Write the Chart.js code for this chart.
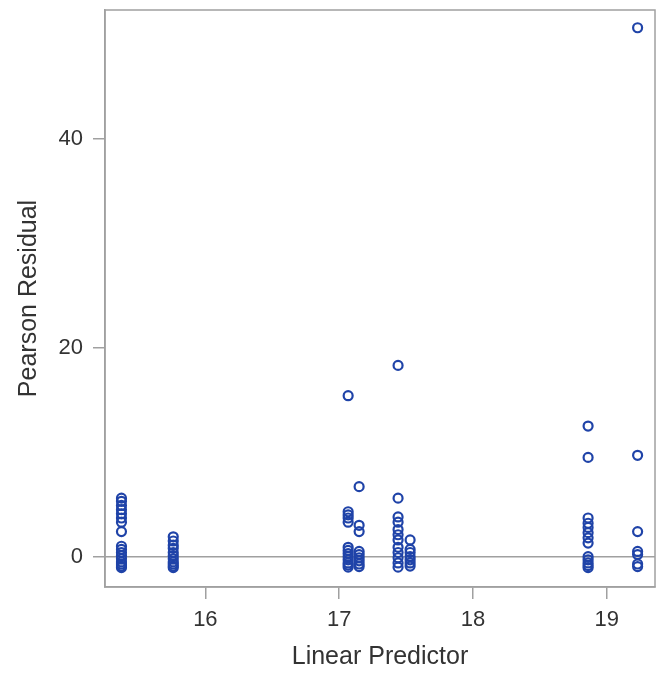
<!DOCTYPE html>
<html>
<head>
<meta charset="utf-8">
<script src="https://cdn.jsdelivr.net/npm/chart.js@4/dist/chart.umd.min.js"></script>
<style>
  html, body { margin: 0; padding: 0; background: #fff; }
  canvas { display: block; }
</style>
</head>
<body>
<canvas id="chart" width="662" height="683"></canvas>
<script>
// Linear predictor value of each vertical column of points
const groupX = [15.373, 15.76, 17.067, 17.149, 17.44, 17.53, 18.86, 19.23];

// Pearson residuals
const residualsA = [5.6, 5.3, 4.9, 4.5, 4.1, 3.7, 3.3, 2.4, 1.0, 0.7, 0.4, 0.1, -0.2, -0.5, -0.7, -0.9, -1.05];
const residualsB = [1.9, 1.5, 1.1, 0.8, 0.4, 0.1, -0.2, -0.5, -0.7, -0.9, -1.05];
const residualsC = [15.4, 4.3, 4.0, 3.7, 3.3, 0.9, 0.6, 0.3, 0.0, -0.3, -0.6, -0.8, -1.0];
const residualsD = [6.7, 3.0, 2.4, 0.5, 0.2, -0.1, -0.4, -0.7, -0.95];
const residualsE = [18.3, 5.6, 3.8, 3.3, 2.6, 2.1, 1.6, 0.9, 0.4, -0.1, -0.6, -1.0];
const residualsF = [1.6, 0.7, 0.4, 0.0, -0.3, -0.6, -0.9];
const residualsG = [12.5, 9.5, 3.7, 3.2, 2.8, 2.3, 1.8, 1.3, 0.0, -0.3, -0.6, -0.85, -1.05];
const residualsH = [50.6, 9.7, 2.4, 0.5, 0.2, -0.7, -0.95];

const xTicks = [16, 17, 18, 19];
const yTicks = [0, 20, 40];

const groups = [residualsA, residualsB, residualsC, residualsD, residualsE, residualsF, residualsG, residualsH];
const points = [];
groups.forEach((vals, i) => {
  vals.forEach((v) => points.push({ x: groupX[i], y: v }));
});

const frameColor = "#a0a0a0";
const textColor = "#333333";

// draws the box round the plot and the reference line at zero
const framePlugin = {
  id: "frame",
  beforeDatasetsDraw(chart) {
    const { ctx, chartArea, scales } = chart;
    const y0 = scales.y.getPixelForValue(0);
    ctx.save();
    ctx.strokeStyle = frameColor;
    ctx.lineWidth = 1.5;
    ctx.beginPath();
    ctx.moveTo(chartArea.left, y0);
    ctx.lineTo(chartArea.right, y0);
    ctx.stroke();
    ctx.strokeRect(chartArea.left, chartArea.top, chartArea.right - chartArea.left, chartArea.bottom - chartArea.top);
    ctx.restore();
  },
};

new Chart(document.getElementById("chart").getContext("2d"), {
  type: "scatter",
  data: {
    datasets: [
      {
        label: "Pearson Residual",
        data: points,
        pointStyle: "circle",
        pointRadius: 4.5,
        pointBorderWidth: 2.2,
        pointBackgroundColor: "rgba(0,0,0,0)",
        pointBorderColor: "#1f43a8",
      },
    ],
  },
  options: {
    responsive: false,
    animation: false,
    layout: { padding: { top: 10, right: 7, bottom: 0, left: 0 } },
    plugins: {
      legend: { display: false },
      tooltip: { enabled: false },
    },
    scales: {
      x: {
        type: "linear",
        min: 15.25,
        max: 19.36,
        afterBuildTicks: (scale) => {
          scale.ticks = xTicks.map((v) => ({ value: v }));
        },
        afterFit: (scale) => {
          scale.height = 96;
          scale.paddingLeft = 0;
          scale.paddingRight = 0;
        },
        grid: { display: true, drawOnChartArea: false, drawTicks: true, tickLength: 12, color: frameColor, lineWidth: 1.5 },
        border: { display: true, color: frameColor, width: 1.5 },
        ticks: {
          padding: 8,
          color: textColor,
          maxRotation: 0,
          font: { family: "'Liberation Sans', Arial, sans-serif", size: 22 },
        },
        title: {
          display: true,
          text: "Linear Predictor",
          color: textColor,
          padding: { top: 0, bottom: 11 },
          font: { family: "'Liberation Sans', Arial, sans-serif", size: 25 },
        },
      },
      y: {
        type: "linear",
        min: -2.9,
        max: 52.3,
        afterBuildTicks: (scale) => {
          scale.ticks = yTicks.map((v) => ({ value: v }));
        },
        afterFit: (scale) => {
          scale.width = 105;
          scale.paddingTop = 0;
          scale.paddingBottom = 0;
        },
        grid: { display: true, drawOnChartArea: false, drawTicks: true, tickLength: 12, color: frameColor, lineWidth: 1.5 },
        border: { display: true, color: frameColor, width: 1.5 },
        ticks: {
          padding: 10,
          color: textColor,
          font: { family: "'Liberation Sans', Arial, sans-serif", size: 22 },
        },
        title: {
          display: true,
          text: "Pearson Residual",
          color: textColor,
          padding: { top: 14, bottom: 0 },
          font: { family: "'Liberation Sans', Arial, sans-serif", size: 25 },
        },
      },
    },
  },
  plugins: [framePlugin],
});
</script>
</body>
</html>
